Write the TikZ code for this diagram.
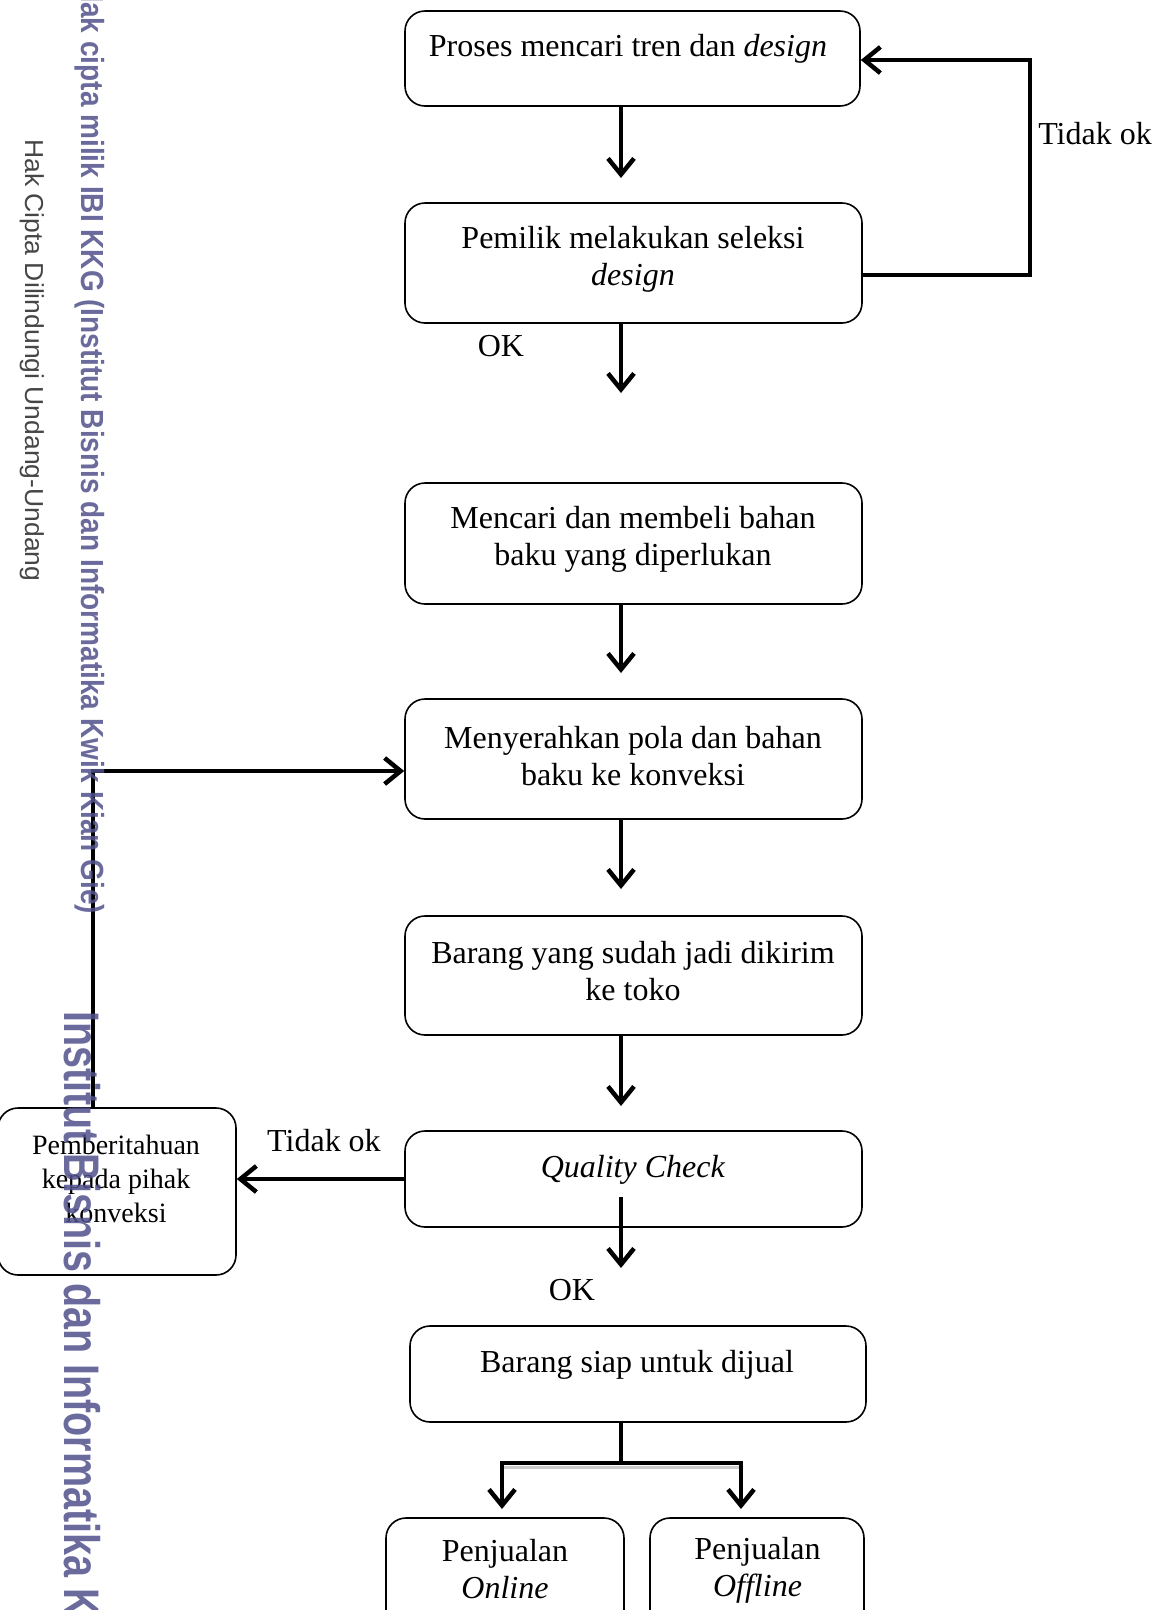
\documentclass[tikz,border=0pt]{standalone}
\usepackage{fontspec}
\setmainfont{Liberation Serif}
\newfontfamily\wmfont{Liberation Sans}
\usetikzlibrary{arrows.meta}
\definecolor{wmpurple}{RGB}{80,80,140}
\definecolor{wmgray}{RGB}{70,70,70}

\begin{document}
\begin{tikzpicture}[x=1pt,y=-1pt]
    \tikzstyle{box}=[draw, rounded corners=20pt, line width=1.6pt, inner sep=0pt]
    \tikzstyle{txt}=[align=center, inner sep=0pt, font=\fontsize{32}{37}\selectfont]
    \tikzstyle{arr}=[line width=4.5pt, -{Straight Barb[length=16pt,width=26pt]}]
    \tikzstyle{wm}=[rotate=-90, anchor=west, inner sep=0pt]

    \useasboundingbox (0,0) rectangle (1163,1610);

    % boxes
    \node[box, minimum width=455pt, minimum height=95pt]  (tren)     at (632.5,58.5) {};
    \node[box, minimum width=457pt, minimum height=120pt] (seleksi)  at (633.5,263) {};
    \node[box, minimum width=457pt, minimum height=121pt] (bahan)    at (633.5,543.5) {};
    \node[box, minimum width=457pt, minimum height=120pt] (konveksi) at (633.5,759) {};
    \node[box, minimum width=457pt, minimum height=119pt] (kirim)    at (633.5,975.5) {};
    \node[box, minimum width=457pt, minimum height=96pt]  (qc)       at (633.5,1179) {};
    \node[box, minimum width=238pt, minimum height=167pt] (info)     at (117,1191.5) {};
    \node[box, minimum width=456pt, minimum height=96pt]  (siap)     at (638,1374) {};
    \node[box, minimum width=238pt, minimum height=142pt] (online)   at (505,1589) {};
    \node[box, minimum width=214pt, minimum height=142pt] (offline)  at (757,1589) {};

    % texts
    \node[txt] (ttren)     at (628,49)    {Proses mencari tren dan \textit{design}};
    \node[txt] (tseleksi)  at (633,259)   {Pemilik melakukan seleksi\\ \textit{design}};
    \node[txt] (tbahan)    at (633,539)   {Mencari dan membeli bahan\\ baku yang diperlukan};
    \node[txt] (tkonveksi) at (633,756.5) {Menyerahkan pola dan bahan\\ baku ke konveksi};
    \node[txt] (tkirim)    at (633,971)   {Barang yang sudah jadi dikirim\\ ke toko};
    \node[txt] (tqc)       at (633,1170)  {\textit{Quality Check}};
    \node[txt, font=\fontsize{28}{34}\selectfont] (tinfo) at (116,1179) {Pemberitahuan\\ kepada pihak\\ konveksi};
    \node[txt] (tsiap)     at (637,1365)  {Barang siap untuk dijual};
    \node[txt] (tonline)   at (505,1569)  {Penjualan\\ \textit{Online}};
    \node[txt] (toffline)  at (757.5,1570) {Penjualan\\ \textit{Offline}};

    \node[txt] (ok1)    at (501,346)  {OK};
    \node[txt] (ok2)    at (572,1290) {OK};
    \node[txt] (tidak1) at (1095,134) {Tidak ok};
    \node[txt] (tidak2) at (324,1141) {Tidak ok};

    % arrows down
    \coordinate (e1) at (621,178);
    \coordinate (e2) at (621,393);
    \coordinate (e3) at (621,673);
    \coordinate (e4) at (621,889);
    \coordinate (e5) at (621,1106);
    \coordinate (q0) at (621,1197);
    \coordinate (e6) at (621,1268);
    \draw[arr] (tren.south -| e1) -- (e1);
    \draw[arr] (seleksi.south -| e2) -- (e2);
    \draw[arr] (bahan.south -| e3) -- (e3);
    \draw[arr] (konveksi.south -| e4) -- (e4);
    \draw[arr] (kirim.south -| e5) -- (e5);
    \draw[arr] (q0) -- (e6);

    % tidak ok loops
    \coordinate (k1) at (1030,275);
    \coordinate (k2) at (1030,60);
    \draw[arr] (seleksi.east |- k1) -- (k1) -- (k2) -- (tren.east |- k2);
    \draw[arr] (qc.west) -- (info.east |- qc.west);
    \coordinate (l1) at (93,771);
    \draw[arr] (info.north -| l1) -- (l1) -- (konveksi.west |- l1);

    % split to sales
    \coordinate (s0) at (621,1463);
    \coordinate (sL) at (502,1463);
    \coordinate (sR) at (741,1463);
    \coordinate (eL) at (502,1509);
    \coordinate (eR) at (741,1509);
    \draw[gray!40, line width=3pt] ([yshift=-4pt]sL) -- ([yshift=-4pt]sR);
    \draw[line width=4.5pt] (siap.south -| s0) -- (s0);
    \draw[arr] (s0) -- (sL) -- (eL);
    \draw[arr] (s0) -- (sR) -- (eR);

    % watermark
    \node[wm, text=wmpurple, opacity=0.85, xscale=0.875, font=\wmfont\bfseries\fontsize{32}{36}\selectfont] (wmA) at (90,-18)
        {Hak cipta milik IBI KKG (Institut Bisnis dan Informatika Kwik Kian Gie)};
    \node[wm, text=wmgray, xscale=1.02, font=\wmfont\fontsize{26}{30}\selectfont] (wmB) at (32,139)
        {Hak Cipta Dilindungi Undang-Undang};
    \node[wm, text=wmpurple, opacity=0.85, xscale=0.79, font=\wmfont\bfseries\fontsize{50}{56}\selectfont] (wmC) at (82,1011)
        {Institut Bisnis dan Informatika Kwik Kian Gie};
\end{tikzpicture}
\end{document}
